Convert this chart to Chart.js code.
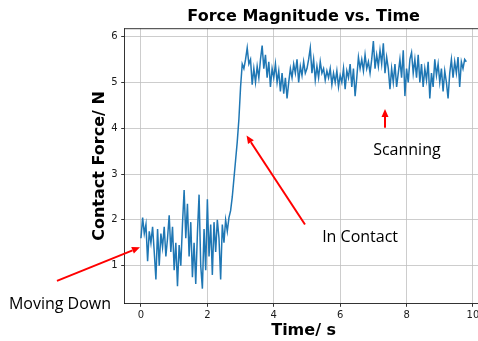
<!DOCTYPE html>
<html><head><meta charset="utf-8">
<script src="https://cdn.jsdelivr.net/npm/chart.js@4/dist/chart.umd.min.js"></script>
<style>
html,body{margin:0;padding:0;overflow:hidden;background:#fff;width:478px;height:341px}
#wrap{position:relative;width:490px;height:341px}
canvas{display:block}
</style></head><body>
<div id="wrap"><canvas id="c" width="490" height="341"></canvas></div>
<script>
const times = [
0,0.05,0.1,0.15,0.2,0.25,0.3,0.35,0.4,0.45,0.5,0.55,0.6,0.65,0.7,0.75,0.8,0.85,0.9,0.95,
1,1.05,1.1,1.15,1.2,1.25,1.3,1.35,1.4,1.45,1.5,1.55,1.6,1.65,1.7,1.75,1.8,1.85,1.9,1.95,
2,2.05,2.1,2.15,2.2,2.25,2.3,2.35,2.4,2.45,2.5,2.55,2.6,2.65,2.7,2.75,2.8,2.85,2.9,2.95,
3,3.05,3.1,3.15,3.2,3.25,3.3,3.35,3.4,3.45,3.5,3.55,3.6,3.65,3.7,3.75,3.8,3.85,3.9,3.95,
4,4.05,4.1,4.15,4.2,4.25,4.3,4.35,4.4,4.45,4.5,4.55,4.6,4.65,4.7,4.75,4.8,4.85,4.9,4.95,
5,5.05,5.1,5.15,5.2,5.25,5.3,5.35,5.4,5.45,5.5,5.55,5.6,5.65,5.7,5.75,5.8,5.85,5.9,5.95,
6,6.05,6.1,6.15,6.2,6.25,6.3,6.35,6.4,6.45,6.5,6.55,6.6,6.65,6.7,6.75,6.8,6.85,6.9,6.95,
7,7.05,7.1,7.15,7.2,7.25,7.3,7.35,7.4,7.45,7.5,7.55,7.6,7.65,7.7,7.75,7.8,7.85,7.9,7.95,
8,8.05,8.1,8.15,8.2,8.25,8.3,8.35,8.4,8.45,8.5,8.55,8.6,8.65,8.7,8.75,8.8,8.85,8.9,8.95,
9,9.05,9.1,9.15,9.2,9.25,9.3,9.35,9.4,9.45,9.5,9.55,9.6,9.65,9.7,9.75,9.8
];
const force = [
1.6,2.05,1.7,1.9,1.1,1.75,1.5,1.85,1.3,0.7,1.8,1.0,1.7,1.4,1.85,1.2,1.6,2.1,1.3,1.85,
0.9,1.5,0.55,1.45,1.0,1.9,2.65,1.6,2.35,1.2,1.95,0.75,1.5,0.6,1.7,2.55,1.0,0.5,1.8,0.9,
2.45,1.2,1.9,0.8,1.95,1.3,2.0,1.6,0.7,1.9,1.5,2.0,1.75,2.05,2.2,2.5,2.9,3.3,3.7,4.2,
4.9,5.4,5.3,5.5,5.75,5.4,5.5,4.95,5.3,5.0,5.35,5.1,5.5,5.8,5.3,5.6,5.1,5.45,4.9,5.3,
5.1,5.4,5.0,5.25,4.8,5.2,4.75,5.1,4.65,5.0,5.3,5.1,5.4,5.2,5.5,5.0,5.35,5.15,5.45,5.2,
5.3,5.5,5.75,5.2,5.5,5.05,5.35,5.1,5.45,5.2,5.3,5.05,5.25,5.1,5.3,4.95,5.2,5.0,5.25,4.9,
5.15,5.0,5.3,4.85,5.25,5.1,5.4,4.9,5.3,4.7,5.1,5.55,5.3,5.5,5.25,5.6,5.3,5.45,5.2,5.5,
5.9,5.3,5.6,5.35,5.7,5.4,5.85,5.2,5.55,5.3,4.85,5.3,5.0,5.4,4.9,5.2,5.5,5.1,5.7,4.7,
5.3,5.0,5.5,5.65,5.2,5.5,5.1,5.6,5.0,5.4,4.9,5.3,5.05,5.45,4.65,5.2,4.9,5.5,5.15,5.4,
5.0,5.3,4.8,5.25,5.0,4.65,5.2,5.5,5.1,5.45,5.2,5.55,4.9,5.45,5.3,5.5,5.45
];
const xTicks = [0,2,4,6,8,10];
const yTicks = [1,2,3,4,5,6];
const chartTitle = 'Force Magnitude vs. Time';
const xLabel = 'Time/ s';
const yLabel = 'Contact Force/ N';
// annotation texts and arrows (data coordinates)
const notes = [
  {text:'Moving Down', at:[-2.44,0.15], from:[-2.53,0.67], to:[-0.03,1.4]},
  {text:'In Contact',  at:[6.6,1.62],   from:[4.94,1.9],   to:[3.18,3.84]},
  {text:'Scanning',    at:[8.01,3.51],  from:[7.35,4.01],  to:[7.35,4.42]}
];

const decor = {
  id:'decor',
  afterDraw(chart){
    const ctx = chart.ctx, a = chart.chartArea, xs = chart.scales.x, ys = chart.scales.y;
    ctx.save();
    ctx.strokeStyle = '#000'; ctx.lineWidth = 0.8;
    ctx.beginPath();
    ctx.moveTo(a.left, a.top); ctx.lineTo(a.right, a.top); ctx.lineTo(a.right, a.bottom);
    ctx.stroke();
    ctx.fillStyle = '#000';
    ctx.textAlign = 'center'; ctx.textBaseline = 'middle';
    ctx.font = 'bold 16px "DejaVu Sans"';
    ctx.fillText(chartTitle, (a.left + a.right)/2, 17);
    ctx.fillText(xLabel, (a.left + a.right)/2, 331);
    ctx.save();
    ctx.translate(100, (a.top + a.bottom)/2);
    ctx.rotate(-Math.PI/2);
    ctx.fillText(yLabel, 0, 0);
    ctx.restore();
    notes.forEach(n => {
      ctx.font = '16px "Open Sans"';
      ctx.fillStyle = '#000';
      ctx.fillText(n.text, xs.getPixelForValue(n.at[0]), ys.getPixelForValue(n.at[1]));
      const x1 = xs.getPixelForValue(n.from[0]), y1 = ys.getPixelForValue(n.from[1]);
      const x2 = xs.getPixelForValue(n.to[0]),   y2 = ys.getPixelForValue(n.to[1]);
      const ang = Math.atan2(y2 - y1, x2 - x1), hl = 8, hw = 3.5;
      const bx = x2 - hl*Math.cos(ang), by = y2 - hl*Math.sin(ang);
      ctx.strokeStyle = '#ff0000'; ctx.fillStyle = '#ff0000'; ctx.lineWidth = 2;
      ctx.beginPath(); ctx.moveTo(x1, y1); ctx.lineTo(bx, by); ctx.stroke();
      ctx.beginPath();
      ctx.moveTo(x2, y2);
      ctx.lineTo(bx + hw*Math.sin(ang), by - hw*Math.cos(ang));
      ctx.lineTo(bx - hw*Math.sin(ang), by + hw*Math.cos(ang));
      ctx.closePath(); ctx.fill();
    });
    ctx.restore();
  }
};

const axisCommon = {
  type:'linear',
  grid:{color:'#c0c0c0', lineWidth:0.8, tickLength:3.5, tickColor:'#000', tickWidth:0.8},
  border:{color:'#000', width:0.8},
  ticks:{font:{family:'DejaVu Sans', size:10}, color:'#1a1a1a', maxRotation:0}
};

new Chart(document.getElementById('c'), {
  type:'line',
  data:{datasets:[{
    data: times.map((t,i)=>({x:t, y:force[i]})),
    borderColor:'#1f77b4', borderWidth:1.5, pointRadius:0, tension:0, fill:false
  }]},
  options:{
    responsive:false, animation:false, devicePixelRatio:1,
    layout:{padding:{left:0, right:7.4, top:28.7, bottom:0}},
    plugins:{legend:{display:false}, tooltip:{enabled:false}, title:{display:false}},
    scales:{
      x:{...axisCommon, min:-0.49, max:10.29,
         ticks:{...axisCommon.ticks, padding:3},
         afterBuildTicks:s=>{s.ticks = xTicks.map(v=>({value:v}));},
         afterFit:s=>{s.height = 37.7;}},
      y:{...axisCommon, min:0.18, max:6.17,
         ticks:{...axisCommon.ticks, padding:3.5},
         afterBuildTicks:s=>{s.ticks = yTicks.map(v=>({value:v}));},
         afterFit:s=>{s.width = 124.7;}}
    }
  },
  plugins:[decor]
});
</script>
</body></html>
